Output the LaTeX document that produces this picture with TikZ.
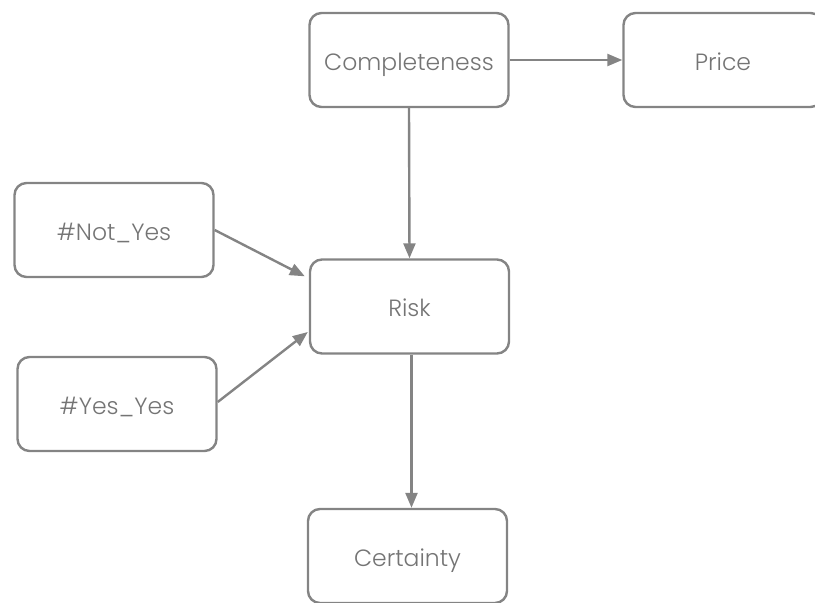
\documentclass[tikz,border=0pt]{standalone}
\usepackage{fontspec}
\setmainfont{Poppins}[UprightFont=* Light]
\usetikzlibrary{arrows.meta}
\definecolor{linegray}{HTML}{848484}
\definecolor{textgray}{HTML}{747474}
\tikzset{
  box/.style={draw=linegray, line width=2.4pt, rounded corners=12pt,
    minimum width=199pt, minimum height=94pt, inner sep=0pt,
    text height=20pt, text depth=0pt,
    text=textgray, font=\fontsize{23.5}{28}\selectfont},
  conn/.style={draw=linegray, line width=2.4pt,
    -{Triangle[length=15pt,width=12pt]}}
}
\begin{document}
\begin{tikzpicture}[x=1pt,y=-1pt]
\useasboundingbox (0,0) rectangle (815,603);
\node[box] (comp) at (409,60) {Completeness};
\node[box] (price) at (723,60) {Price};
\node[box] (notyes) at (114,230) {\#Not\_Yes};
\node[box] (risk) at (409.5,306.5) {Risk};
\node[box] (yesyes) at (117,404) {\#Yes\_Yes};
\node[box] (cert) at (407.5,556) {Certainty};
\draw[conn] (comp.east) -- (price.west);
\draw[conn] (comp.south) -- (risk.north);
\draw[conn] (notyes.east) -- ([xshift=-4pt,yshift=-18pt]risk.north west);
\draw[conn] ([yshift=2pt]yesyes.east) -- ([xshift=-1pt,yshift=-25.5pt]risk.west);
\draw[conn] ([xshift=2pt]risk.south) -- ([xshift=2pt]risk.south |- cert.north);
\end{tikzpicture}
\end{document}
